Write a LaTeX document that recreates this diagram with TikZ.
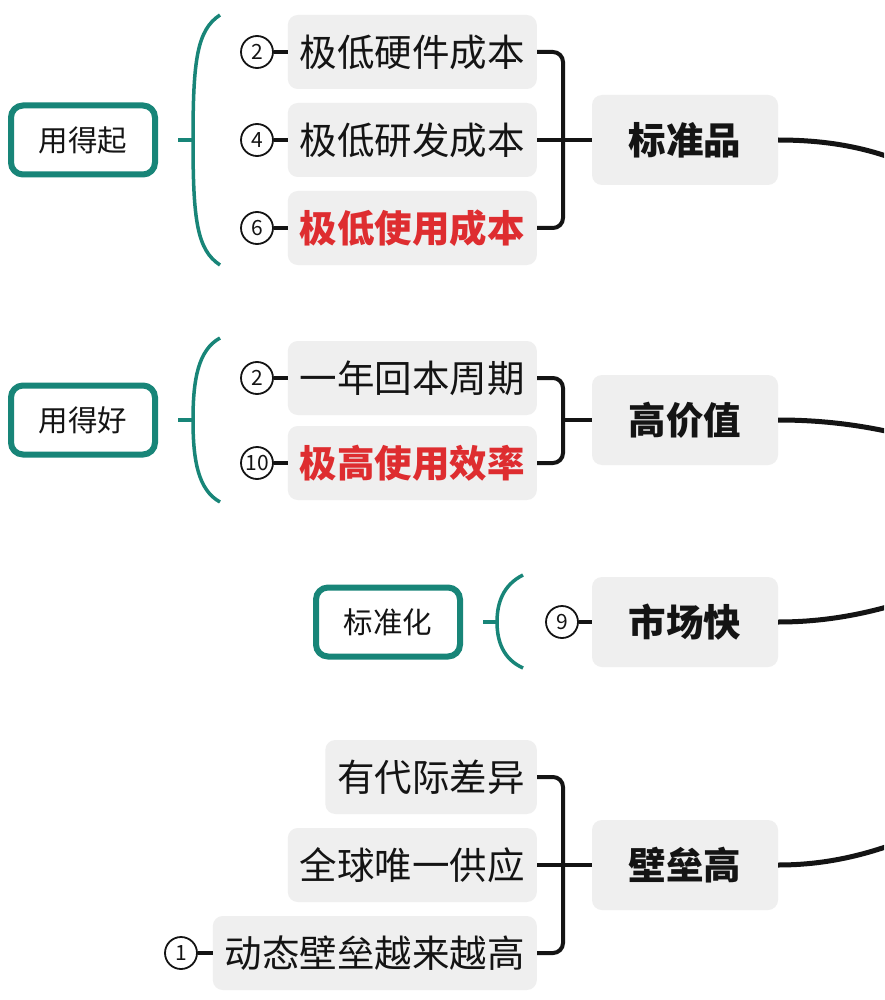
\documentclass[tikz,border=0pt]{standalone}
\usepackage{fontspec}
\setmainfont{Noto Sans CJK SC}
\definecolor{teal1}{RGB}{24,133,120}
\definecolor{boxgray}{RGB}{239,239,239}
\definecolor{red1}{RGB}{222,45,48}
\definecolor{ink}{RGB}{20,20,20}
\tikzset{
  leaf/.style={fill=boxgray, rounded corners=10pt, inner xsep=12pt, inner ysep=0pt, minimum height=74pt, anchor=east, text=ink, font=\fontsize{37.5}{40}\selectfont},
  redleaf/.style={leaf, text=red1, font=\fontsize{37.5}{40}\selectfont\bfseries},
  topic/.style={fill=boxgray, rounded corners=10pt, minimum width=186pt, minimum height=90pt, inner sep=0pt, text=ink, font=\fontsize{37.5}{40}\selectfont\bfseries},
  tag/.style={draw=teal1, line width=6pt, rounded corners=12pt, minimum width=144pt, minimum height=69pt, inner sep=0pt, text=ink, font=\fontsize{29.5}{31}\selectfont},
  num/.style={circle, draw=ink, line width=1.8pt, minimum size=32pt, inner sep=0pt, text=ink, font=\fontsize{21}{22}\selectfont},
  wire/.style={draw=ink, line width=4pt},
  thick wire/.style={draw=ink, line width=5pt},
  brace/.style={draw=teal1, line width=3.5pt},
}
\begin{document}
\begin{tikzpicture}[x=1pt,y=-1pt]
\clip (0,0) rectangle (884,1000);
\fill[white] (0,0) rectangle (884,1000);

% ---------- group 1 ----------
\node[leaf] (a1) at (537,52) {极低硬件成本};
\node[leaf] (a2) at (537,140) {极低研发成本};
\node[redleaf] (a3) at (537,228) {极低使用成本};
\node[num] (n1) at (257,52) {2};
\node[num] (n2) at (257,140) {4};
\node[num] (n3) at (257,228) {6};
\node[topic] (t1) at (685,140) {标准品};
\node[tag] (g1) at (83,140) {用得起};
\draw[wire] (n1.east) -- (a1.west);
\draw[wire] (n2.east) -- (a2.west);
\draw[wire] (n3.east) -- (a3.west);
\draw[wire, rounded corners=10pt] (a1.east) -- (563,52) -- (563,228) -- (a3.east);
\draw[wire] (a2.east) -- (t1.west);
\coordinate (b1) at (193,140);
\draw[brace] (220,15) .. controls (197,30) and (193,60) .. (b1) .. controls (193,220) and (197,250) .. (220,265);
\draw[brace] (178,140) -- (b1);

% ---------- group 2 ----------
\node[leaf] (d1) at (537,378) {一年回本周期};
\node[redleaf] (d2) at (537,463) {极高使用效率};
\node[num] (m1) at (257,378) {2};
\node[num] (m2) at (257,463) {10};
\node[topic] (t2) at (685,420) {高价值};
\node[tag] (g2) at (83,420) {用得好};
\draw[wire] (m1.east) -- (d1.west);
\draw[wire] (m2.east) -- (d2.west);
\draw[wire, rounded corners=10pt] (d1.east) -- (563,378) -- (563,463) -- (d2.east);
\draw[wire] (563,420) -- (t2.west);
\coordinate (b2) at (193,420);
\draw[brace] (220,338) .. controls (198,350) and (193,380) .. (b2) .. controls (193,460) and (198,490) .. (220,502);
\draw[brace] (178,420) -- (b2);

% ---------- group 3 ----------
\node[topic] (t3) at (685,622) {市场快};
\node[num] (k1) at (562,622) {9};
\node[tag] (g3) at (388,622) {标准化};
\draw[wire] (k1.east) -- (t3.west);
\coordinate (b3) at (497,622);
\draw[brace] (523,575) .. controls (503,585) and (497,603) .. (b3) .. controls (497,641) and (503,659) .. (523,668);
\draw[brace] (483,622) -- (b3);

% ---------- group 4 ----------
\node[leaf] (e1) at (537,777) {有代际差异};
\node[leaf] (e2) at (537,865) {全球唯一供应};
\node[leaf] (e3) at (537,953) {动态壁垒越来越高};
\node[num] (p1) at (181,953) {1};
\node[topic] (t4) at (685,865) {壁垒高};
\draw[wire] (p1.east) -- (e3.west);
\draw[wire, rounded corners=10pt] (e1.east) -- (563,777) -- (563,953) -- (e3.east);
\draw[wire] (e2.east) -- (t4.west);

% ---------- links to the centre (off the page) ----------
\coordinate (h1) at (940,180);
\coordinate (h2) at (940,445);
\coordinate (h3) at (940,590);
\coordinate (h4) at (940,825);
\draw[thick wire] (t1.east) .. controls (840,140) and (890,152) .. (h1);
\draw[thick wire] (t2.east) .. controls (840,420) and (890,430) .. (h2);
\draw[thick wire] (t3.east) .. controls (840,622) and (890,608) .. (h3);
\draw[thick wire] (t4.east) .. controls (840,865) and (890,848) .. (h4);
\end{tikzpicture}
\end{document}
